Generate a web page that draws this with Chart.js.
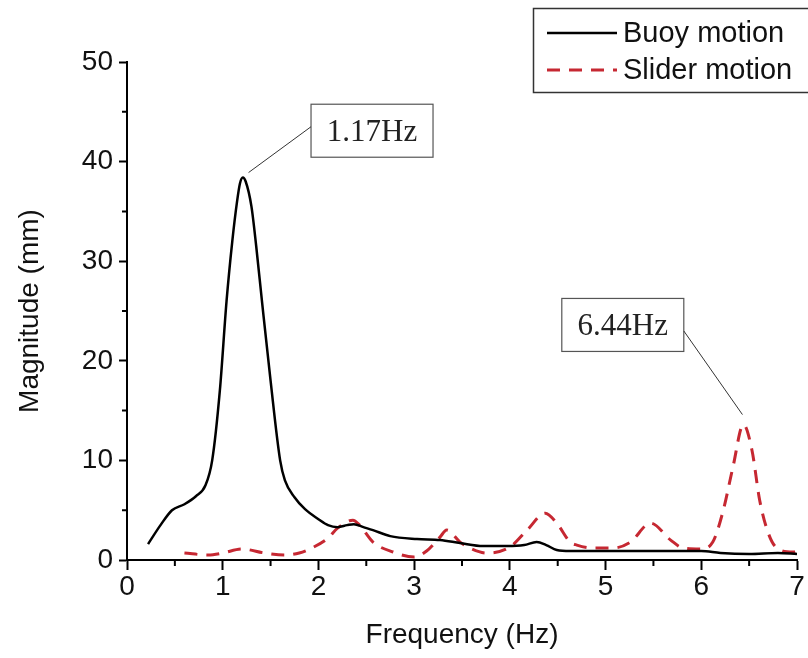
<!DOCTYPE html>
<html>
<head>
<meta charset="utf-8">
<script src="https://cdn.jsdelivr.net/npm/chart.js@4.4.1/dist/chart.umd.min.js"></script>
<style>
  html, body { margin: 0; padding: 0; background: #fff; }
  #wrap { width: 808px; height: 658px; }
</style>
</head>
<body>
<div id="wrap"><canvas id="fftChart" width="808" height="658"></canvas></div>
<script>
// BUOY MOTION (black solid)
const buoyFreq = [0.22, 0.35, 0.47, 0.6, 0.72, 0.82, 0.89, 0.97, 1.04, 1.1, 1.15, 1.18, 1.21, 1.24, 1.3, 1.35, 1.41, 1.5, 1.6, 1.65, 1.75, 1.86, 2.0, 2.1, 2.2, 2.3, 2.37, 2.47, 2.57, 2.75, 3.03, 3.27, 3.48, 3.72, 3.97, 4.15, 4.28, 4.38, 4.49, 4.63, 5.0, 5.5, 6.0, 6.2, 6.5, 6.8, 7.0];
const buoyMag  = [1.6, 3.5, 5.0, 5.6, 6.4, 7.5, 10, 17, 26, 32, 36, 37.8, 38.4, 38.0, 35.5, 31.5, 26, 18, 10, 8, 6.3, 5.1, 4.1, 3.5, 3.3, 3.5, 3.6, 3.3, 3.0, 2.4, 2.1, 2.0, 1.7, 1.4, 1.4, 1.5, 1.8, 1.5, 1.0, 0.9, 0.9, 0.9, 0.9, 0.7, 0.6, 0.7, 0.6];

// SLIDER MOTION (red dashed)
const sliderFreq = [0.6, 0.85, 1.0, 1.2, 1.44, 1.65, 1.8, 1.93, 2.1, 2.2, 2.36, 2.43, 2.57, 2.78, 3.0, 3.13, 3.27, 3.34, 3.48, 3.58, 3.76, 4.0, 4.18, 4.37, 4.49, 4.63, 4.7, 4.87, 5.08, 5.26, 5.47, 5.68, 5.81, 5.99, 6.12, 6.23, 6.33, 6.44, 6.53, 6.61, 6.7, 6.79, 6.96, 7.0];
const sliderMag  = [0.7, 0.5, 0.7, 1.1, 0.7, 0.5, 0.7, 1.2, 2.2, 3.2, 4.0, 3.5, 1.8, 0.8, 0.3, 0.9, 2.3, 3.0, 1.8, 1.2, 0.7, 1.3, 3.0, 4.7, 3.7, 1.8, 1.5, 1.2, 1.2, 1.8, 3.7, 2.0, 1.2, 1.1, 1.8, 5.0, 9.3, 13.6, 11.0, 6.0, 2.7, 1.2, 0.8, 0.9];

const seriesLabels = ["Buoy motion", "Slider motion"];

// AXES
const xMin = 0, xMax = 7, xStep = 0.5, xLabelEvery = 1;
const yMin = 0, yMax = 50, yStep = 5, yLabelEvery = 10;
const xTitle = "Frequency (Hz)";
const yTitle = "Magnitude (mm)";

// PEAK CALLOUTS: text, box centre (data units), leader target (data units)
const peakNotes = [
  { text: "1.17Hz", bx: 2.56, by: 43.1, tx: 1.27, ty: 38.9, side: "left" },
  { text: "6.44Hz", bx: 5.18, by: 23.6, tx: 6.43, ty: 14.6, side: "right" }
];

function toPoints(xs, ys) {
  return xs.map((x, i) => ({ x: x, y: ys[i] }));
}

const SANS = "'Liberation Sans', Arial, sans-serif";
const SERIF = "'Liberation Serif', 'Times New Roman', serif";

function isMajor(v, every) {
  return Math.abs(v / every - Math.round(v / every)) < 1e-6;
}

// minor ticks, callouts and legend box
const extrasPlugin = {
  id: "extras",
  afterDraw(chart) {
    const ctx = chart.ctx;
    const xs = chart.scales.x;
    const ys = chart.scales.y;
    ctx.save();

    // minor ticks
    ctx.strokeStyle = "#000";
    ctx.lineWidth = 2;
    ctx.beginPath();
    xs.ticks.forEach(t => {
      if (isMajor(t.value, xLabelEvery)) return;
      const px = xs.getPixelForValue(t.value);
      ctx.moveTo(px, ys.bottom);
      ctx.lineTo(px, ys.bottom + 6);
    });
    ys.ticks.forEach(t => {
      if (isMajor(t.value, yLabelEvery)) return;
      const py = ys.getPixelForValue(t.value);
      ctx.moveTo(xs.left, py);
      ctx.lineTo(xs.left - 5, py);
    });
    ctx.stroke();

    // callouts
    ctx.font = "31px " + SERIF;
    ctx.textAlign = "center";
    ctx.textBaseline = "middle";
    peakNotes.forEach(n => {
      const cx = xs.getPixelForValue(n.bx);
      const cy = ys.getPixelForValue(n.by);
      const w = 122, h = 53;
      ctx.fillStyle = "#fff";
      ctx.fillRect(cx - w / 2, cy - h / 2, w, h);
      ctx.strokeStyle = "#555";
      ctx.lineWidth = 1.2;
      ctx.strokeRect(cx - w / 2, cy - h / 2, w, h);
      ctx.fillStyle = "#222";
      ctx.fillText(n.text, cx, cy + 2);
      const sx = n.side === "left" ? cx - w / 2 : cx + w / 2;
      const sy = n.side === "left" ? cy - 4 : cy + 6;
      ctx.strokeStyle = "#333";
      ctx.lineWidth = 1;
      ctx.beginPath();
      ctx.moveTo(sx, sy);
      ctx.lineTo(xs.getPixelForValue(n.tx), ys.getPixelForValue(n.ty));
      ctx.stroke();
    });

    // legend
    ctx.strokeStyle = "#333";
    ctx.lineWidth = 1.5;
    ctx.strokeRect(533.5, 8.5, 300, 84);
    ctx.font = "29px " + SANS;
    ctx.textAlign = "left";
    ctx.fillStyle = "#111";
    chart.data.datasets.forEach((ds, i) => {
      const ly = 33 + i * 37;
      ctx.strokeStyle = ds.borderColor;
      ctx.lineWidth = ds.borderWidth;
      ctx.setLineDash(ds.borderDash || []);
      ctx.beginPath();
      ctx.moveTo(547, ly);
      ctx.lineTo(617, ly);
      ctx.stroke();
      ctx.setLineDash([]);
      ctx.fillText(ds.label, 623, ly + 1);
    });

    ctx.restore();
  }
};

const fftCtx = document.getElementById("fftChart").getContext("2d");
const fftChart = new Chart(fftCtx, {
  type: "line",
  data: {
    datasets: [
      {
        label: seriesLabels[0],
        data: toPoints(buoyFreq, buoyMag),
        borderColor: "#000000",
        borderWidth: 2.5,
        pointRadius: 0,
        tension: 0.4,
        cubicInterpolationMode: "monotone",
        fill: false,
      },
      {
        label: seriesLabels[1],
        data: toPoints(sliderFreq, sliderMag),
        borderColor: "#c62832",
        borderWidth: 3,
        borderDash: [13, 9],
        pointRadius: 0,
        tension: 0.4,
        cubicInterpolationMode: "monotone",
        fill: false,
      },
    ],
  },
  options: {
    responsive: false,
    animation: false,
    layout: {
      padding: { left: 0, top: 62, right: 11, bottom: 0 },
    },
    plugins: {
      legend: { display: false },
      tooltip: { enabled: false },
    },
    scales: {
      x: {
        type: "linear",
        min: xMin,
        max: xMax,
        afterFit: (scale) => { scale.height = 98; },
        border: { display: true, color: "#000", width: 2 },
        grid: {
          drawOnChartArea: false,
          tickLength: 10,
          tickWidth: 2,
          tickColor: (c) => (c.tick && isMajor(c.tick.value, xLabelEvery)) ? "#000" : "rgba(0,0,0,0)",
        },
        ticks: {
          stepSize: xStep,
          autoSkip: false,
          maxRotation: 0,
          padding: 0,
          color: "#111",
          font: { family: SANS, size: 28 },
          callback: (v) => isMajor(v, xLabelEvery) ? String(v) : "",
        },
        title: {
          display: true,
          text: xTitle,
          color: "#111",
          font: { family: SANS, size: 28 },
          padding: { top: 0, bottom: 6 },
        },
      },
      y: {
        type: "linear",
        min: yMin,
        max: yMax,
        afterFit: (scale) => { scale.width = 127; },
        border: { display: true, color: "#000", width: 2 },
        grid: {
          drawOnChartArea: false,
          tickLength: 8,
          tickWidth: 2,
          tickColor: (c) => (c.tick && isMajor(c.tick.value, yLabelEvery)) ? "#000" : "rgba(0,0,0,0)",
        },
        ticks: {
          stepSize: yStep,
          autoSkip: false,
          padding: 6,
          color: "#111",
          font: { family: SANS, size: 28 },
          callback: (v) => isMajor(v, yLabelEvery) ? String(v) : "",
        },
        title: {
          display: true,
          text: yTitle,
          color: "#111",
          font: { family: SANS, size: 28 },
          padding: { top: 13, bottom: 0 },
        },
      },
    },
  },
  plugins: [extrasPlugin],
});
</script>
</body>
</html>
